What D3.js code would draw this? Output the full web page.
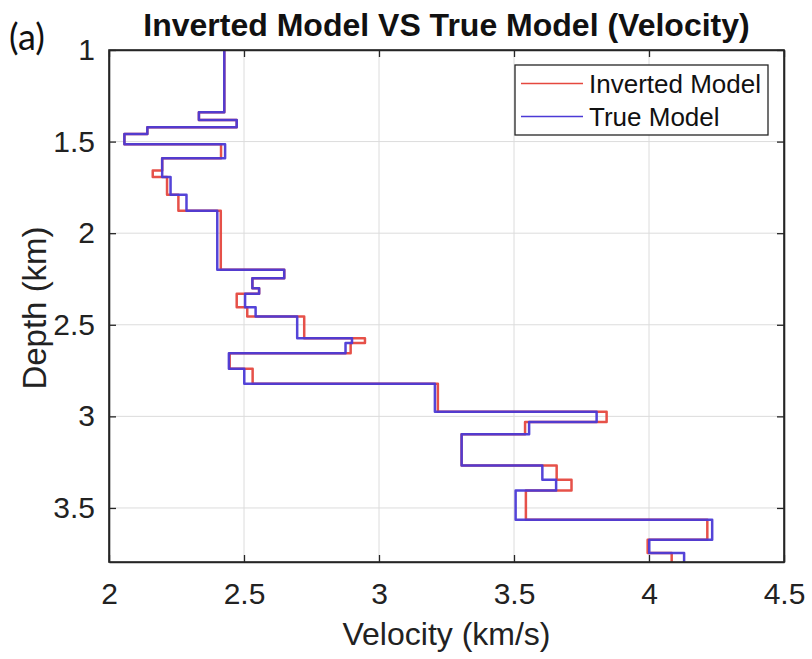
<!DOCTYPE html>
<html>
<head>
<meta charset="utf-8">
<script src="https://cdn.jsdelivr.net/npm/d3@7"></script>
<style>
  html, body { margin: 0; padding: 0; background: #fff; }
  svg { display: block; }
</style>
</head>
<body>
<svg id="chart" width="812" height="659"></svg>
<script>
// Layer tops (km) shared by both velocity profiles; the last layer ends at depthMax
const layerTops = [1.00, 1.34, 1.382, 1.422, 1.458, 1.515, 1.591, 1.658, 1.693, 1.79,
  1.877, 2.20, 2.246, 2.30, 2.331, 2.404, 2.455, 2.573, 2.60, 2.655,
  2.740, 2.822, 2.975, 3.031, 3.097, 3.268, 3.346, 3.404, 3.564, 3.673, 3.746];
const depthMax = 3.795;

// Interval velocities (km/s) per layer
const invertedVelocity = [2.427, 2.333, 2.473, 2.142, 2.057, 2.415, 2.197, 2.162, 2.215, 2.257,
  2.414, 2.649, 2.531, 2.556, 2.473, 2.512, 2.723, 2.948, 2.895, 2.447,
  2.532, 3.218, 3.843, 3.541, 3.306, 3.658, 3.713, 3.544, 4.216, 3.995, 4.084];
const trueVelocity = [2.427, 2.333, 2.473, 2.142, 2.057, 2.430, 2.197, 2.197, 2.228, 2.287,
  2.401, 2.649, 2.531, 2.556, 2.504, 2.543, 2.697, 2.900, 2.876, 2.444,
  2.501, 3.207, 3.806, 3.556, 3.306, 3.605, 3.656, 3.506, 4.234, 4.001, 4.130];

const xTicks = [2, 2.5, 3, 3.5, 4, 4.5];
const yTicks = [1, 1.5, 2, 2.5, 3, 3.5];
const seriesNames = ["Inverted Model", "True Model"];
const seriesColors = ["#e5483f", "#4b3ad6"];

const svg = d3.select("#chart");
const plot = { left: 109, right: 784, top: 50, bottom: 562 };

const x = d3.scaleLinear().domain([2, 4.5]).range([plot.left, plot.right]);
const y = d3.scaleLinear().domain([1, depthMax]).range([plot.top, plot.bottom]);

const axisColor = "#262626";
const textFont = "'Liberation Sans', Arial, sans-serif";

// Grid
const grid = svg.append("g");
grid.selectAll("line.gx").data(xTicks.slice(1, -1)).join("line")
  .attr("x1", d => x(d)).attr("x2", d => x(d))
  .attr("y1", plot.top).attr("y2", plot.bottom)
  .attr("stroke", "#dcdcdc").attr("stroke-width", 1);
grid.selectAll("line.gy").data(yTicks.slice(1)).join("line")
  .attr("x1", plot.left).attr("x2", plot.right)
  .attr("y1", d => y(d)).attr("y2", d => y(d))
  .attr("stroke", "#dcdcdc").attr("stroke-width", 1);

// Step profile: each layer is a vertical segment joined by horizontal jumps
function stepPoints(vel) {
  const pts = [];
  vel.forEach((v, i) => {
    const top = layerTops[i];
    const bot = i + 1 < layerTops.length ? layerTops[i + 1] : depthMax;
    pts.push([v, top], [v, bot]);
  });
  return pts;
}
const line = d3.line().x(d => x(d[0])).y(d => y(d[1]));

svg.append("defs").append("clipPath").attr("id", "clip")
  .append("rect").attr("x", plot.left).attr("y", plot.top)
  .attr("width", plot.right - plot.left).attr("height", plot.bottom - plot.top);

const lines = svg.append("g").attr("clip-path", "url(#clip)");
[invertedVelocity, trueVelocity].forEach((vel, i) => {
  lines.append("path")
    .attr("d", line(stepPoints(vel)))
    .attr("fill", "none")
    .attr("stroke", seriesColors[i])
    .attr("stroke-width", 2.5)
    .attr("stroke-linejoin", "round")
    .attr("opacity", 0.95);
});

// Axes (box with inward ticks on all sides)
function styleAxis(g) {
  g.select(".domain").attr("stroke", axisColor).attr("stroke-width", 1.6);
  g.selectAll(".tick line").attr("stroke", axisColor).attr("stroke-width", 1.3);
  g.selectAll(".tick text").attr("fill", "#222").attr("font-family", textFont).attr("font-size", 30);
}
const tickLen = 7;
svg.append("g").attr("transform", `translate(0,${plot.bottom})`)
  .call(d3.axisBottom(x).tickValues(xTicks).tickFormat(d3.format("")).tickSizeInner(-tickLen).tickSizeOuter(0).tickPadding(21))
  .call(styleAxis);
svg.append("g").attr("transform", `translate(0,${plot.top})`)
  .call(d3.axisTop(x).tickValues(xTicks).tickFormat("").tickSizeInner(-tickLen).tickSizeOuter(0))
  .call(styleAxis);
svg.append("g").attr("transform", `translate(${plot.left},0)`)
  .call(d3.axisLeft(y).tickValues(yTicks).tickFormat(d3.format("")).tickSizeInner(-tickLen).tickSizeOuter(0).tickPadding(14))
  .call(styleAxis);
svg.append("g").attr("transform", `translate(${plot.right},0)`)
  .call(d3.axisRight(y).tickValues(yTicks).tickFormat("").tickSizeInner(-tickLen).tickSizeOuter(0))
  .call(styleAxis);
svg.append("rect").attr("x", plot.left).attr("y", plot.top)
  .attr("width", plot.right - plot.left).attr("height", plot.bottom - plot.top)
  .attr("fill", "none").attr("stroke", axisColor).attr("stroke-width", 1.6);

// Titles
svg.append("text").attr("x", (plot.left + plot.right) / 2).attr("y", 36)
  .attr("text-anchor", "middle").attr("font-family", textFont)
  .attr("font-weight", "bold").attr("font-size", 32).attr("fill", "#111")
  .text("Inverted Model VS True Model (Velocity)");
svg.append("text").attr("x", 9).attr("y", 50)
  .style("font-family", "Lato, 'Open Sans', sans-serif").style("font-size", "36px").attr("fill", "#111")
  .text("(a)");
svg.append("text").attr("x", (plot.left + plot.right) / 2).attr("y", 645)
  .attr("text-anchor", "middle").attr("font-family", textFont).attr("font-size", 32).attr("fill", "#222")
  .text("Velocity (km/s)");
svg.append("text")
  .attr("transform", `translate(46,${(plot.top + plot.bottom) / 2 + 2}) rotate(-90)`)
  .attr("text-anchor", "middle").attr("font-family", textFont).attr("font-size", 33).attr("fill", "#222")
  .text("Depth (km)");

// Legend
const legend = svg.append("g").attr("transform", "translate(515,65)");
legend.append("rect").attr("width", 253).attr("height", 70)
  .attr("fill", "#fff").attr("stroke", axisColor).attr("stroke-width", 1.3);
seriesNames.forEach((name, i) => {
  const ly = 18.5 + i * 33;
  legend.append("line").attr("x1", 6).attr("x2", 68).attr("y1", ly).attr("y2", ly)
    .attr("stroke", seriesColors[i]).attr("stroke-width", 1.5);
  legend.append("text").attr("x", 74).attr("y", ly + 9)
    .attr("font-family", textFont).attr("font-size", 26).attr("fill", "#111")
    .text(name);
});
</script>
</body>
</html>
